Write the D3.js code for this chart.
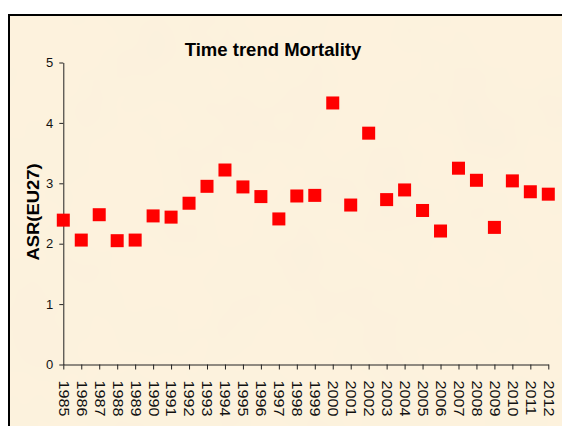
<!DOCTYPE html>
<html>
<head>
<meta charset="utf-8">
<script src="https://cdn.jsdelivr.net/npm/d3@7"></script>
<style>
  body { margin: 0; background: #fff; }
  svg { display: block; font-family: "Liberation Sans", Arial, sans-serif; }
</style>
</head>
<body>
<svg id="grafico" width="562" height="426"></svg>
<script>
// Datos del gráfico
const anios = [1985, 1986, 1987, 1988, 1989, 1990, 1991, 1992, 1993, 1994,
  1995, 1996, 1997, 1998, 1999, 2000, 2001, 2002, 2003, 2004,
  2005, 2006, 2007, 2008, 2009, 2010, 2011, 2012];
const valores = [2.39, 2.06, 2.48, 2.05, 2.06, 2.46, 2.44, 2.67, 2.95, 3.22,
  2.94, 2.78, 2.41, 2.79, 2.80, 4.33, 2.64, 3.83, 2.73, 2.89,
  2.55, 2.21, 3.25, 3.05, 2.27, 3.04, 2.86, 2.82];
const ticksY = [0, 1, 2, 3, 4, 5];

const titulo = 'Time trend Mortality';
const etiquetaY = 'ASR(EU27)';

// Dimensiones del área de trazado
const margen = { superior: 62.5, izquierdo: 63.3, derecho: 548.3, inferior: 364.5 };

const svg = d3.select('#grafico');

// Fondo tipo pergamino con marco
const defs = svg.append('defs');
const filtro = defs.append('filter').attr('id', 'papel')
  .attr('x', 0).attr('y', 0).attr('width', 1).attr('height', 1);
filtro.append('feTurbulence')
  .attr('type', 'fractalNoise')
  .attr('baseFrequency', 0.012)
  .attr('numOctaves', 3)
  .attr('seed', 4)
  .attr('result', 'ruido');
filtro.append('feColorMatrix')
  .attr('in', 'ruido')
  .attr('type', 'matrix')
  .attr('values', '0 0 0 0 0.94  0 0 0 0 0.87  0 0 0 0 0.72  0 0 0 0.6 -0.18')
  .attr('result', 'manchas');
filtro.append('feFlood').attr('flood-color', '#fdf2dd').attr('result', 'base');
filtro.append('feComposite').attr('in', 'manchas').attr('in2', 'base').attr('operator', 'over');

svg.append('rect')
  .attr('x', 9).attr('y', 15)
  .attr('width', 600).attr('height', 500)
  .attr('fill', '#fdf2dd')
  .attr('filter', 'url(#papel)');

svg.append('rect')
  .attr('x', 9).attr('y', 15)
  .attr('width', 600).attr('height', 500)
  .attr('fill', 'none')
  .attr('stroke', '#000')
  .attr('stroke-width', 2);

// Escalas
const escalaX = d3.scalePoint()
  .domain(anios)
  .range([margen.izquierdo, margen.derecho]);

const escalaY = d3.scaleLinear()
  .domain([0, 5])
  .range([margen.inferior, margen.superior]);

// Eje X
const ejeX = d3.axisBottom(escalaX).tickSize(5).tickSizeOuter(0).tickPadding(0);
const gX = svg.append('g')
  .attr('transform', `translate(0, ${margen.inferior})`)
  .call(ejeX);
gX.select('.domain').attr('stroke', '#222');
gX.selectAll('.tick line').attr('stroke', '#222');
gX.selectAll('.tick text')
  .attr('font-size', 14)
  .attr('fill', '#111')
  .attr('x', 14)
  .attr('y', 0)
  .attr('dy', null)
  .attr('dominant-baseline', 'central')
  .attr('text-anchor', 'start')
  .attr('transform', 'rotate(90) scale(1.15, 1)');

// Eje Y
const ejeY = d3.axisLeft(escalaY)
  .tickValues(ticksY)
  .tickFormat(d3.format('d'))
  .tickSize(4)
  .tickSizeOuter(0)
  .tickPadding(6);
const gY = svg.append('g')
  .attr('transform', `translate(${margen.izquierdo}, 0)`)
  .call(ejeY);
gY.select('.domain').attr('stroke', '#222');
gY.selectAll('.tick line').attr('stroke', '#222');
gY.selectAll('.tick text')
  .attr('font-size', 13)
  .attr('fill', '#111');

// Puntos cuadrados
const lado = 13;
svg.append('g')
  .selectAll('rect')
  .data(valores)
  .enter()
  .append('rect')
  .attr('x', (d, i) => escalaX(anios[i]) - lado / 2)
  .attr('y', d => escalaY(d) - lado / 2)
  .attr('width', lado)
  .attr('height', lado)
  .attr('fill', '#ff0000');

// Título
svg.append('text')
  .attr('x', 273)
  .attr('y', 56)
  .attr('text-anchor', 'middle')
  .attr('font-size', 18.5)
  .attr('font-weight', 'bold')
  .attr('fill', '#000')
  .text(titulo);

// Etiqueta del eje Y
svg.append('text')
  .attr('transform', 'translate(33, 212) rotate(-90) scale(1.15, 1)')
  .attr('text-anchor', 'middle')
  .attr('dominant-baseline', 'central')
  .attr('font-size', 16)
  .attr('font-weight', 'bold')
  .attr('fill', '#000')
  .text(etiquetaY);
</script>
</body>
</html>
